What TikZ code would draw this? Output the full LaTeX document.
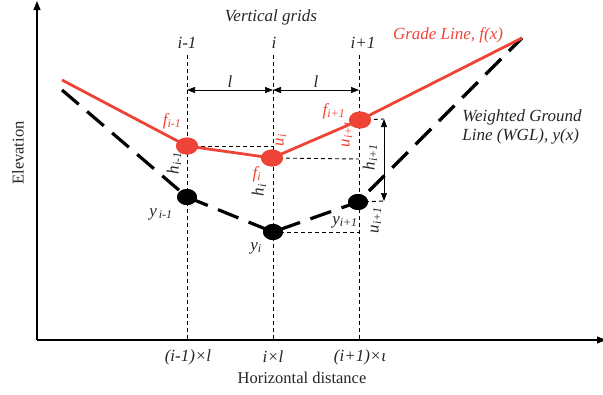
\documentclass[tikz,border=0pt]{standalone}
\usepackage{fontspec}
\setmainfont{Liberation Serif}
\usetikzlibrary{arrows.meta,shapes.geometric}
\definecolor{gred}{RGB}{238,68,56}
\newcommand\sbx[1]{\textsubscript{#1}}
\begin{document}
\begin{tikzpicture}[x=1pt,y=-1pt,
  axis/.style={line width=1.2pt,-{Triangle[length=9pt,width=7pt]}},
  grid/.style={line width=0.8pt,dash pattern=on 4pt off 3pt},
  guide/.style={line width=0.9pt,dash pattern=on 4pt off 3pt},
  grade/.style={gred,line width=2.8pt},
  wgl/.style={line width=3.2pt,dash pattern=on 22pt off 11pt},
  rdot/.style={ellipse,fill=gred,minimum width=22pt,minimum height=17pt,inner sep=0pt},
  bdot/.style={ellipse,fill=black,minimum width=20pt,minimum height=16pt,inner sep=0pt},
  dimarrow/.style={line width=0.7pt,{Triangle[length=8pt,width=6pt]}-{Triangle[length=8pt,width=6pt]}},
  lbl/.style={font=\fontsize{17}{19}\selectfont\itshape,inner sep=1pt,text=black!85},
  rlbl/.style={lbl,text=gred},
  plain/.style={font=\fontsize{16.5}{19}\selectfont,inner sep=1pt,text=black!85}]
\useasboundingbox (0,0) rectangle (603,394);
% axes
\coordinate (O) at (37,340);
\coordinate (Ytop) at (37,1);
\coordinate (Xend) at (606,340);
\draw[axis] (O) -- (Ytop);
\draw[axis] (O) -- (Xend);
% grid coordinates
\coordinate (g1t) at (187,55); \coordinate (g1b) at (187,340);
\coordinate (g2t) at (273,55); \coordinate (g2b) at (273,340);
\coordinate (g3t) at (359,55); \coordinate (g3b) at (359,340);
\draw[grid] (g1t) -- (g1b);
\draw[grid] (g2t) -- (g2b);
\draw[grid] (g3t) -- (g3b);
% l dimension arrows
\coordinate (l1) at (187,90); \coordinate (l2) at (273,90); \coordinate (l3) at (359,90);
\draw[dimarrow] (l1) -- node[lbl,above=1pt] {l} (l2);
\draw[dimarrow] (l2) -- node[lbl,above=1pt] {l} (l3);
% lines
\coordinate (rs) at (62,80);
\coordinate (bs) at (62,90);
\coordinate (e) at (522,38);
\node[rdot] (f1) at (187,146) {};
\node[rdot] (f2) at (272,158) {};
\node[rdot] (f3) at (360,120) {};
\node[bdot] (y1) at (187,197) {};
\node[bdot] (y2) at (273,232) {};
\node[bdot] (y3) at (358,202) {};
% guides
\coordinate (a1) at (273,146);
\coordinate (a2) at (359,159);
\coordinate (a3) at (384,119);
\coordinate (a4) at (384,201);
\coordinate (a5) at (359,232);
\draw[guide] (f1.center) -- (a1);
\draw[guide] (f2.center) -- (a2);
\draw[guide] (f3.center) -- (a3);
\draw[guide] (y3.center) -- (a4);
\draw[guide] (y2.center) -- (a5);
\draw[dimarrow] (a3) -- (a4);
% curves
\draw[wgl] (bs) -- (y1.center) -- (y2.center) -- (y3.center) -- (e);
\draw[grade] (rs) -- (f1.center) -- (f2.center) -- (f3.center) -- (e);
\node[rdot] at (f1) {};
\node[rdot] at (f2) {};
\node[rdot] at (f3) {};
\node[bdot] at (y1) {};
\node[bdot] at (y2) {};
\node[bdot] at (y3) {};
% labels
\node[lbl] (vg) at (271,17) {Vertical grids};
\node[lbl] (t1) at (187,43) {i-1};
\node[lbl] (t2) at (274,43) {i};
\node[lbl] (t3) at (363,43) {i+1};
\node[rlbl] (gl) at (448,35) {Grade Line, f(x)};
\node[lbl,align=left] (wg) at (522,127) {Weighted Ground\\Line (WGL), y(x)};
\node[rlbl] at (172,121) {f\sbx{i-1}};
\node[rlbl] at (257,174) {f\sbx{i}};
\node[rlbl] at (334,111) {f\sbx{i+1}};
\node[rlbl,rotate=90] at (281,140) {u\sbx{i}};
\node[rlbl,rotate=90] at (347,134) {u\sbx{i+1}};
\node[lbl,rotate=90] at (174,163) {h\sbx{i-1}};
\node[lbl,rotate=90] at (259,190) {h\sbx{i}};
\node[lbl,rotate=90] at (370,157) {h\sbx{i+1}};
\node[lbl,rotate=90] at (376,220) {u\sbx{i+1}};
\node[lbl] at (161,214) {y\sbx{\,i-1}};
\node[lbl] at (256,248) {y\sbx{i}};
\node[lbl] at (345,222) {y\sbx{i+1}};
\node[lbl] at (188,357) {(i-1)×l};
\node[lbl] at (273,357) {i×l};
\node[lbl] at (360,357) {(i+1)×ι};
\node[plain] at (302,378) {Horizontal distance};
\node[plain,rotate=90] at (18,153) {Elevation};
\end{tikzpicture}
\end{document}
